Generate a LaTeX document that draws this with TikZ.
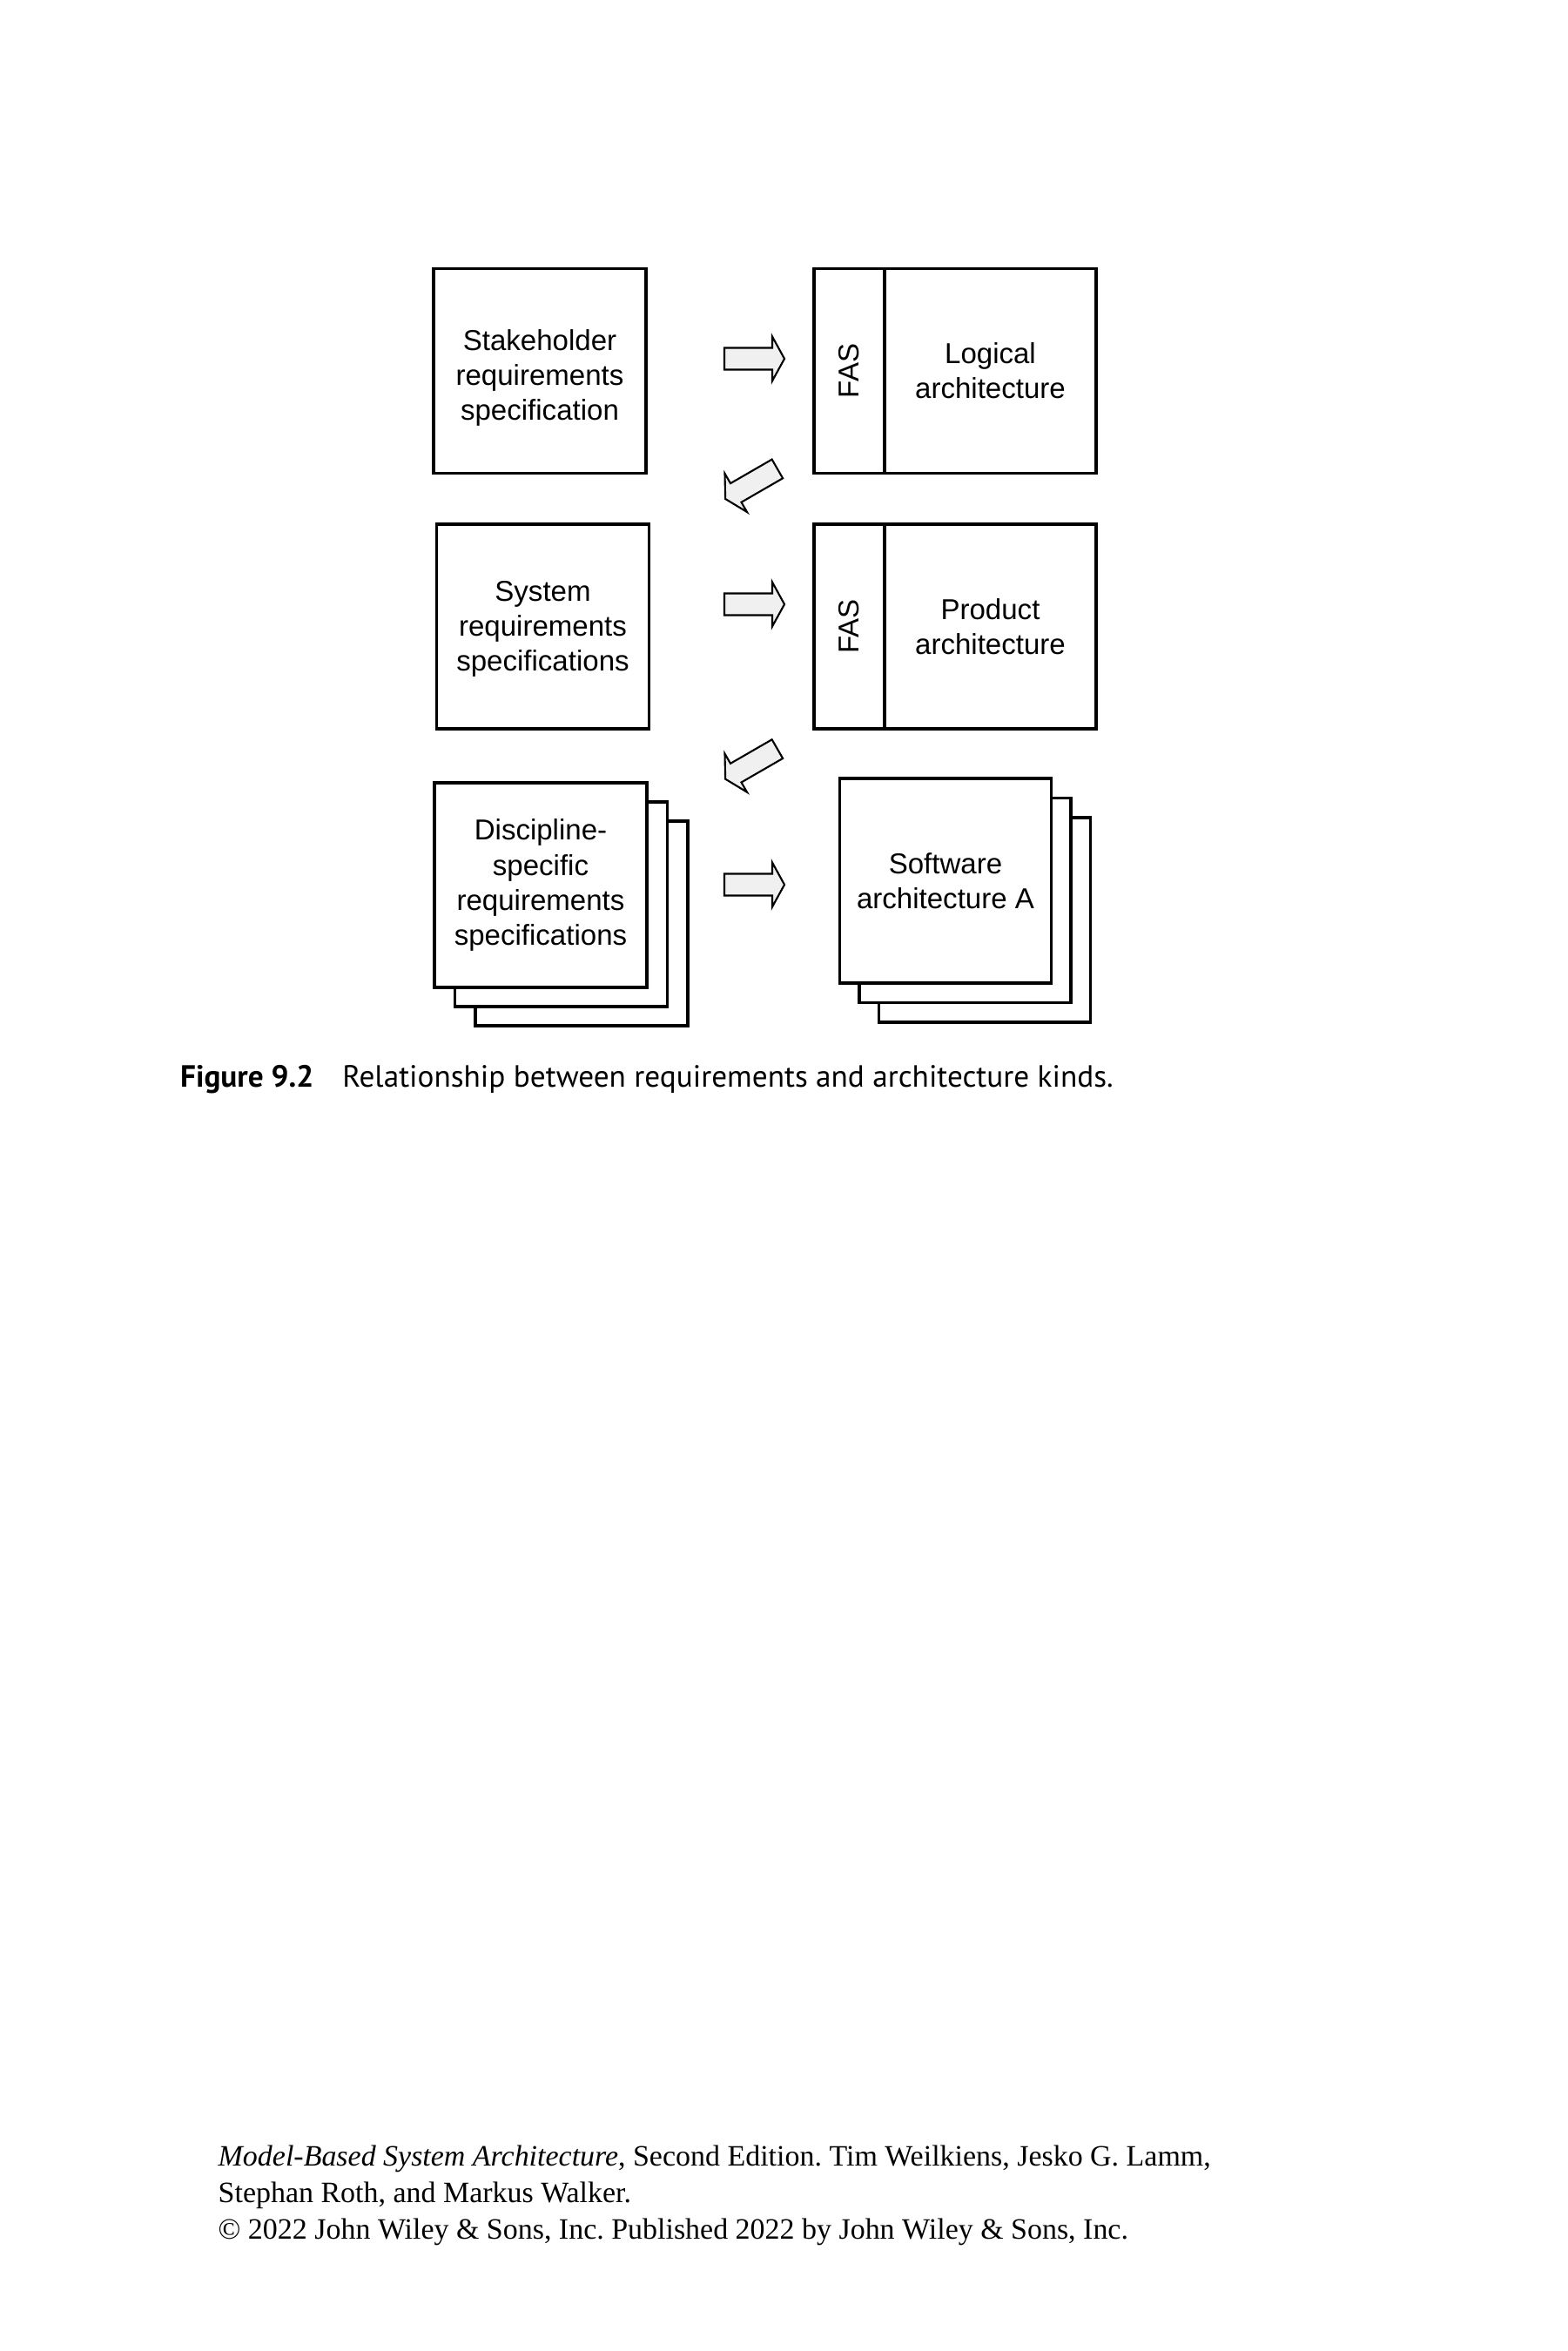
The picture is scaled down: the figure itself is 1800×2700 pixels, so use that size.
\documentclass[tikz,border=0pt]{standalone}
\usepackage{fontspec}
\usepackage{graphicx}
\setmainfont{Liberation Sans}
\newfontfamily\capfont{PT Sans}
\newfontfamily\footfont{Liberation Serif}
\usetikzlibrary{positioning,shadows}
\frenchspacing

\begin{document}
\begin{tikzpicture}[x=0.1mm,y=-0.1mm,
  every node/.style={font=\fontsize{9.4}{11.4}\selectfont},
  docbox/.style={draw,line width=1pt,fill=white,inner sep=0pt,outer sep=0pt,align=center,minimum height=23.5mm},
  reqbox/.style={docbox,minimum width=24.4mm},
  fasbox/.style={docbox,minimum width=8.1mm},
  archbox/.style={docbox,minimum width=24.3mm},
  footline/.style={anchor=base west,inner sep=0pt,font=\footfont\fontsize{9.66}{12}\selectfont},
  blockarrow/.pic={\draw[line width=0.6pt,fill=gray!12,line join=miter]
    (-34.5,-12.5) -- (20.5,-12.5) -- (20.5,-25.5) -- (34.5,0) -- (20.5,25.5) -- (20.5,12.5) -- (-34.5,12.5) -- cycle;}]
  \useasboundingbox[fill=white] (0,0) rectangle (1800,2700);

  % requirements (left column)
  \node[reqbox,label={[align=center,yshift=-0.8mm]center:Stakeholder\\requirements\\specification}] (stake) at (620,426) {};
  \node[reqbox,label={[align=center,yshift=-0.3mm]center:System\\requirements\\specifications}] (sysreq) at (623.5,719.5) {};
  \node[reqbox,double copy shadow={shadow xshift=2.35mm,shadow yshift=-2.2mm,draw,fill=white,line width=1pt}]
    (discreq) at (621,1016.5) {Discipline-\\specific\\requirements\\specifications};

  % architectures (right column)
  \node[fasbox] (fas1) at (975.5,426) {\rotatebox{90}{FAS}};
  \node[archbox,right=0pt of fas1] (logic) {Logical\\architecture};
  \node[fasbox] (fas2) at (975.5,719.5) {\rotatebox{90}{FAS}};
  \node[archbox,right=0pt of fas2] (product) {Product\\architecture};
  \node[archbox,double copy shadow={shadow xshift=2.25mm,shadow yshift=-2.25mm,draw,fill=white,line width=1pt}]
    (software) at (1086,1011.5) {Software\\architecture A};

  % block arrows
  \pic at (866.5,412) {blockarrow};
  \pic at (866.5,694) {blockarrow};
  \pic at (866.5,1016) {blockarrow};
  \pic[rotate=210] at (863,555.7) {blockarrow};
  \pic[rotate=210] at (863,877.4) {blockarrow};

  % caption and footer
  \node[anchor=base west,inner sep=0pt,font=\capfont\fontsize{10.03}{12}\selectfont] (caption) at (206.5,1248)
    {\textbf{Figure 9.2}\hspace{3.3mm}Relationship between requirements and architecture kinds.};
  \node[footline] (foot1) at (250,2487) {\textit{Model-Based System Architecture}, Second Edition. Tim Weilkiens, Jesko G. Lamm,};
  \node[footline] (foot2) at (250,2529) {Stephan Roth, and Markus Walker.};
  \node[footline] (foot3) at (250,2571) {© 2022 John Wiley \& Sons, Inc. Published 2022 by John Wiley \& Sons, Inc.};
\end{tikzpicture}
\end{document}
